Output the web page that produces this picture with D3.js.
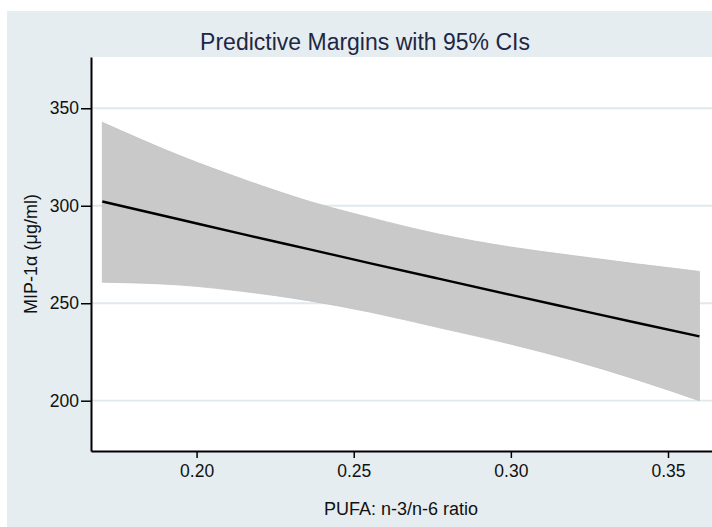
<!DOCTYPE html>
<html>
<head>
<meta charset="utf-8">
<script src="https://cdn.jsdelivr.net/npm/d3@7"></script>
<style>
  html, body { margin: 0; padding: 0; background: #fff; }
  svg { display: block; }
</style>
</head>
<body>
<div id="chart"></div>
<script>
"use strict";

// PUFA n-3/n-6 ratio at which margins were read
const ratio = [0.17, 0.195, 0.215, 0.236, 0.255, 0.277, 0.30, 0.319, 0.34, 0.36];
// predicted MIP-1a and 95% CI bounds
const margin_fit = [302.2, 292.8, 285.3, 277.6, 270.6, 262.6, 254.3, 247.5, 240.0, 233.0];
const ci_upper   = [342.8, 325.5, 313.5, 302.2, 294.0, 285.5, 278.8, 274.6, 270.2, 266.3];
const ci_lower   = [260.8, 259.3, 256.0, 251.2, 245.5, 237.5, 229.0, 221.0, 210.8, 200.0];

const x_ticks = [0.20, 0.25, 0.30, 0.35];
const y_ticks = [200, 250, 300, 350];

let font = "'Liberation Sans', Arial, sans-serif";
let width = 712, height = 527;
let plot = {left: 91, right: 712, top: 57, bottom: 451};

const data = ratio.map((r, i) => ({r, fit: margin_fit[i], hi: ci_upper[i], lo: ci_lower[i]}));

let x = d3.scaleLinear([0.1664, 0.3640], [plot.left, plot.right]);
let y = d3.scaleLinear([174.2, 376.3], [plot.bottom, plot.top]);

const svg = d3.select("#chart")
    .append("svg")
    .attr("width", width)
    .attr("height", height);

// graph region
svg.append("rect")
    .attr("x", 7).attr("y", 11)
    .attr("width", width - 7).attr("height", height - 11)
    .attr("fill", "#e6edf0");

// plot region
svg.append("rect")
    .attr("x", plot.left).attr("y", plot.top)
    .attr("width", plot.right - plot.left).attr("height", plot.bottom - plot.top)
    .attr("fill", "#ffffff");

// grid
svg.append("g")
    .selectAll("line")
    .data(y_ticks)
    .join("line")
    .attr("x1", plot.left).attr("x2", plot.right)
    .attr("y1", d => y(d)).attr("y2", d => y(d))
    .attr("stroke", "#e0e9ec")
    .attr("stroke-width", 1.8);

// CI band
const area = d3.area()
    .curve(d3.curveMonotoneX)
    .x(d => x(d.r))
    .y0(d => y(d.lo))
    .y1(d => y(d.hi));

svg.append("path")
    .datum(data)
    .attr("d", area)
    .attr("fill", "#c9c9c9")
    .attr("stroke", "#c2c2c2")
    .attr("stroke-width", 0.8);

// margins line
const line = d3.line()
    .curve(d3.curveMonotoneX)
    .x(d => x(d.r))
    .y(d => y(d.fit));

svg.append("path")
    .datum(data)
    .attr("d", line)
    .attr("fill", "none")
    .attr("stroke", "#000")
    .attr("stroke-width", 2.4);

// axes
const yAxis = svg.append("g")
    .attr("transform", `translate(${plot.left},0)`)
    .call(d3.axisLeft(y).tickValues(y_ticks).tickFormat(d3.format("d")).tickSize(10).tickPadding(2).tickSizeOuter(0));

const xAxis = svg.append("g")
    .attr("transform", `translate(0,${plot.bottom})`)
    .call(d3.axisBottom(x).tickValues(x_ticks).tickFormat(d3.format(".2f")).tickSize(7).tickPadding(7).tickSizeOuter(0));

[yAxis, xAxis].forEach(g => {
    g.select(".domain").attr("stroke", "#000").attr("stroke-width", 2);
    g.selectAll(".tick line").attr("stroke", "#000").attr("stroke-width", 1.5);
    g.selectAll(".tick text")
        .style("font-family", font)
        .style("font-size", "17.5px")
        .attr("fill", "#111");
});

// title
svg.append("text")
    .attr("x", 365).attr("y", 50)
    .attr("text-anchor", "middle")
    .style("font-family", font)
    .style("font-size", "23px")
    .attr("fill", "#1e2744")
    .text("Predictive Margins with 95% CIs");

// axis titles
svg.append("text")
    .attr("x", 401).attr("y", 515)
    .attr("text-anchor", "middle")
    .style("font-family", font)
    .style("font-size", "18px")
    .attr("fill", "#111")
    .text("PUFA: n-3/n-6 ratio");

svg.append("text")
    .attr("transform", `translate(37,${(plot.top + plot.bottom) / 2}) rotate(-90)`)
    .attr("text-anchor", "middle")
    .style("font-family", font)
    .style("font-size", "18px")
    .attr("fill", "#111")
    .text("MIP-1α (μg/ml)");
</script>
</body>
</html>
